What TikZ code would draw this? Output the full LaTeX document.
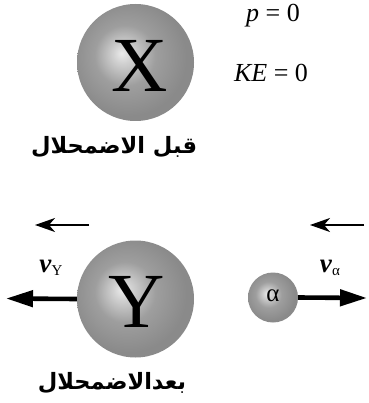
\documentclass[tikz,border=0pt]{standalone}
\usepackage{fontspec}
\setmainfont{Liberation Serif}
\newfontfamily\arabicfont[Script=Arabic]{DejaVu Sans}
\TeXXeTstate=1
\usetikzlibrary{arrows.meta}
\pgfdeclareradialshading{myball}{\pgfpoint{-6bp}{4bp}}{%
  color(0bp)=(white!92!black);
  color(4bp)=(white!82!black);
  color(13bp)=(black!38);
  color(25bp)=(black!46);
  color(50bp)=(black!46)}
\tikzset{
  ball/.style={circle, shading=myball, inner sep=0pt},
  bigletter/.style={font=\fontsize{78}{78}\selectfont},
  eqtext/.style={font=\fontsize{26}{28}\selectfont},
  arlabel/.style={font=\arabicfont\bfseries\fontsize{22.5}{26}\selectfont},
  thinarrow/.style={-{Stealth[length=20pt,width=14pt,inset=6pt]}, line width=1.5pt},
  thickarrow/.style={-{Triangle[length=27pt,width=16pt]}, line width=4.6pt},
  vlabel/.style={font=\fontsize{27}{28}\selectfont}
}
\begin{document}
\begin{tikzpicture}[x=1pt,y=-1pt]
\useasboundingbox (0,0) rectangle (368,403);
% before
\node[ball, minimum size=117pt] (X) at (135.5,62.5) {};
\node[bigletter] (Xl) at (139.5,66) {X};
\node[eqtext] (p) at (273,16) {\textit{p} = 0};
\node[eqtext] (ke) at (271,73) {\textit{KE} = 0};
\node[arlabel] (before) at (114,147) {\beginR قبل الاضمحلال\endR};
% after
\node[ball, minimum size=117pt] (Y) at (135.5,299) {};
\node[bigletter] (Yl) at (137,302) {Y};
\node[ball, minimum size=50pt] (A) at (273,297.5) {};
\node[font=\fontsize{25}{26}\selectfont] (Al) at (273,296) {α};
\coordinate (ytip) at (6,298.5);
\coordinate (atip) at (367,298);
\draw[thickarrow] (Y.west) -- (ytip);
\draw[thickarrow] (A.east) -- (atip);
\coordinate (t1s) at (89,225);
\coordinate (t1e) at (35,225);
\coordinate (t2s) at (364,225);
\coordinate (t2e) at (310,225);
\draw[thinarrow] (t1s) -- (t1e);
\draw[thinarrow] (t2s) -- (t2e);
\node[vlabel] (vy) at (51,268) {\textbf{\textit{v}}\raisebox{-3pt}{\fontsize{15}{15}\selectfont Y}};
\node[vlabel] (va) at (330,268) {\textbf{\textit{v}}\raisebox{-3pt}{\fontsize{15}{15}\selectfont α}};
\node[arlabel] (after) at (112,383) {\beginR بعدالاضمحلال\endR};
\end{tikzpicture}
\end{document}
